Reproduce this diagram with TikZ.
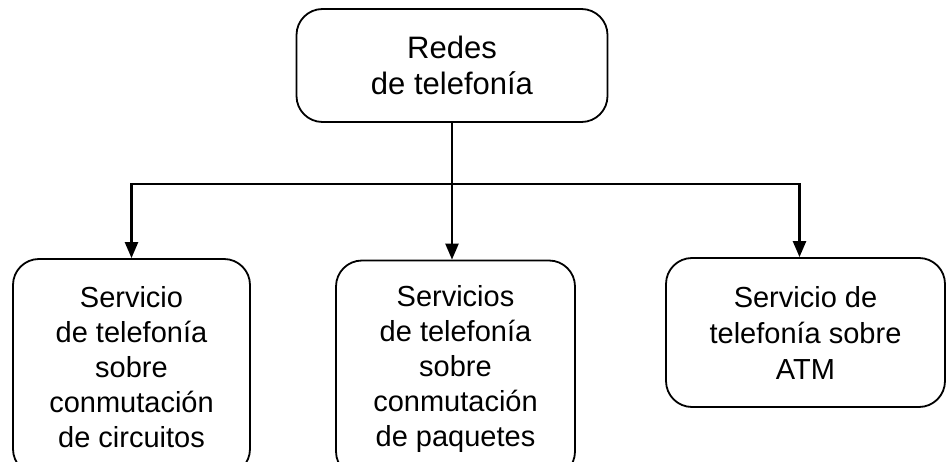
\documentclass[tikz,border=0pt]{standalone}
\usepackage{fontspec}
\setmainfont{Liberation Sans}
\usetikzlibrary{arrows.meta}

\begin{document}
\begin{tikzpicture}[
        x=1pt, y=-1pt,
        block/.style={rectangle, draw, line width=1.8pt, rounded corners=26pt,
                     align=center, inner sep=0pt, font=\fontsize{29}{35}\selectfont},
        line/.style={draw, line width=2.4pt, -{Triangle[length=16pt,width=13pt]}}
      ]
        \useasboundingbox (0,0) rectangle (947,462);

        % Top block
        \node [block, minimum width=311pt, minimum height=113pt,
               font=\fontsize{31}{36}\selectfont] (redes) at (452,65.5) {Redes\\de telefonía};

        % Service blocks
        \node [block, minimum width=237pt, minimum height=216pt] (circuitos) at (131.5,367)
              {Servicio\\de telefonía\\sobre\\conmutación\\de circuitos};
        \node [block, minimum width=239pt, minimum height=217pt] (paquetes) at (455.5,369)
              {Servicios\\de telefonía\\sobre\\conmutación\\de paquetes};
        \node [block, minimum width=279pt, minimum height=149pt,
               font=\fontsize{29}{36}\selectfont] (atm) at (805.5,332.5)
              {Servicio de\\telefonía sobre\\ATM};

        % Lines
        \coordinate (split) at (452,184);
        \draw [line width=2.4pt] (redes) -- (split);
        \draw [line] (split) -| (circuitos);
        \draw [line] (split) -- (split |- paquetes.north);
        \draw [line] (split) -| ([xshift=-6pt]atm.north);
      \end{tikzpicture}
\end{document}
